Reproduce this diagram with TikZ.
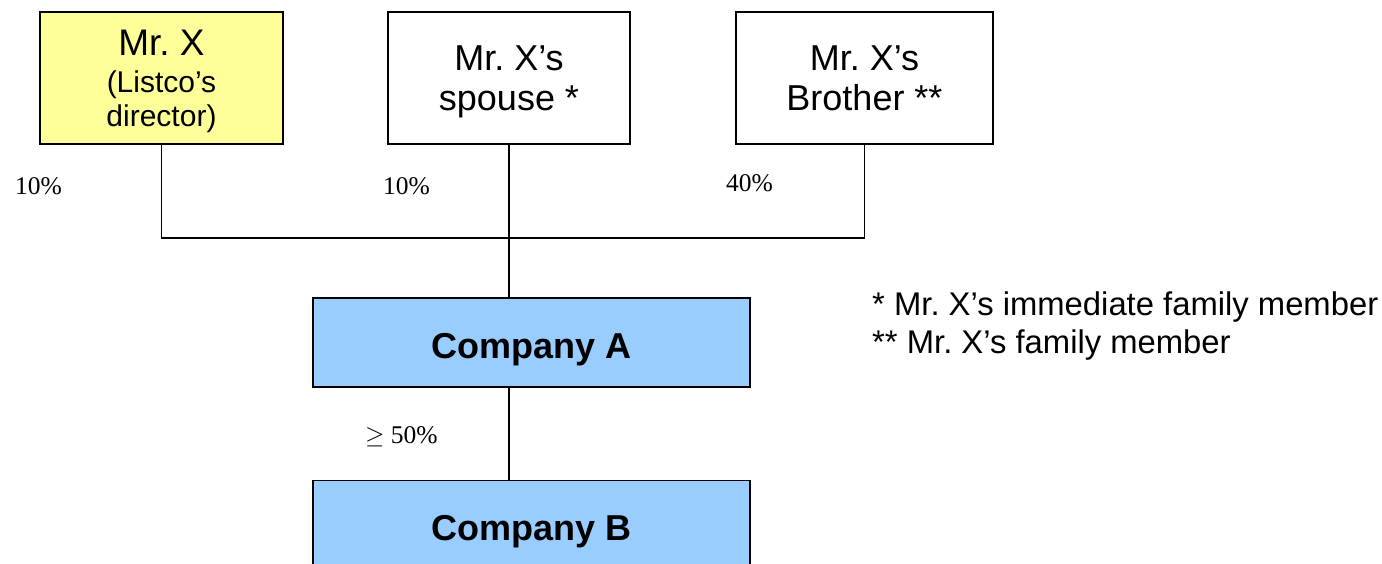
\documentclass[tikz,border=0pt]{standalone}
\usepackage{fontspec}
\setmainfont{Liberation Sans}
\newfontfamily\pctfont{Liberation Serif}
\definecolor{dirfill}{HTML}{FFFF99}
\definecolor{cofill}{HTML}{99CCFF}
\frenchspacing
\begin{document}
\begin{tikzpicture}[x=1pt,y=-1pt,
  person/.style={draw=black,line width=1.6pt,rectangle,inner sep=0pt,align=center,
    text depth=0pt,font=\fontsize{36}{40}\selectfont},
  company/.style={draw=black,line width=1.6pt,rectangle,fill=cofill,inner sep=0pt,
    text height=31pt,text depth=0pt,
    minimum width=437pt,minimum height=89pt,font=\fontsize{36}{41}\selectfont\bfseries},
  link/.style={draw=black,line width=1.4pt},
  pct/.style={anchor=base west,inner sep=0pt,font=\pctfont\fontsize{25.5}{30}\selectfont},
  note/.style={anchor=base west,inner sep=0pt,font=\fontsize{32.8}{37}\selectfont}]
\clip (0,0) rectangle (1382,564);
\fill[white] (0,0) rectangle (1382,564);

% shareholders
\node[person,fill=dirfill,minimum width=243pt,minimum height=132pt,
      font=\fontsize{30}{34}\selectfont] (mrx) at (161.5,78)
  {\fontsize{37}{37}\selectfont Mr. X\\[3pt](Listco’s\\director)};
\node[person,fill=white,minimum width=242pt,minimum height=132pt] (sp) at (509,78)
  {Mr. X’s\\spouse *};
\node[person,fill=white,minimum width=257pt,minimum height=132pt] (bro) at (864.5,78)
  {Mr. X’s\\Brother **};

% companies
\node[company] (ca) at (531.5,342.5) {Company A};
\node[company] (cb) at (531.5,525) {Company B};

% ownership lines
\coordinate (jn) at (509,238);
\draw[link] (mrx.south) |- (jn) -| (bro.south);
\draw[link] (sp.south) -- (sp.south |- ca.north);
\draw[link] (ca.south -| sp.south) -- (cb.north -| sp.south);

% percentages
\node[pct] (p1) at (15,195) {10\%};
\node[pct] (p2) at (383,195) {10\%};
\node[pct] (p3) at (726,192) {40\%};
\node[pct] (p4) at (365,443) {$\geq$ 50\%};

% legend
\node[note] (n1) at (872,315) {* Mr. X’s immediate family member};
\node[note] (n2) at (872,353) {** Mr. X’s family member};
\end{tikzpicture}
\end{document}
